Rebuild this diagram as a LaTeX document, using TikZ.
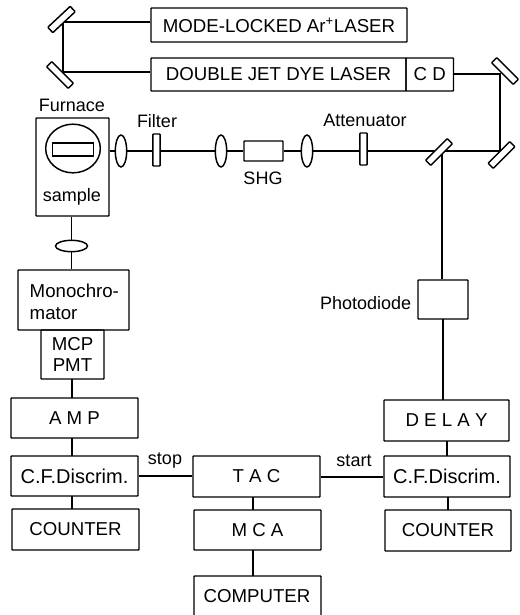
\documentclass[tikz,border=0pt]{standalone}
\usepackage{fontspec}
\usetikzlibrary{shapes.geometric}
\setmainfont{Liberation Sans}
\begin{document}
\begin{tikzpicture}[x=0.75pt,y=-0.75pt,line width=1.1pt,
  box/.style={draw,rounded corners=0.5pt,inner sep=0pt,font=\fontsize{14}{16}\selectfont,align=center},
  mirror/.style={draw,rounded corners=0.6pt,fill=white,minimum width=23pt,minimum height=5.5pt,inner sep=0pt},
  lensv/.style={draw,ellipse,fill=white,minimum width=8.5pt,minimum height=24pt,inner sep=0pt},
  lab/.style={font=\fontsize{13.5}{15}\selectfont,inner sep=0pt}]
\useasboundingbox (0,0) rectangle (519,615);
\clip (0,0) rectangle (519,615);
\def\bx#1#2#3#4#5#6{\node[box,minimum width=#4*0.75pt-#2*0.75pt,minimum height=#5*0.75pt-#3*0.75pt] (#1) at ({(#2+#4)/2},{(#3+#5)/2}) {#6};}
% boxes
\bx{mode}{151}{8}{407}{42}{MODE-LOCKED Ar\textsuperscript{+}LASER}
\bx{dye}{151}{58}{406}{91}{DOUBLE JET DYE LASER}
\bx{cd}{406}{58}{453.5}{91}{C D}
\bx{furn}{36}{118}{109}{216}{}
\bx{mono}{18}{270}{129}{330}{}
\bx{pmt}{41}{330}{104}{379}{\fontsize{14}{16}\selectfont MCP\\[0pt]PMT}
\bx{amp}{11}{398}{138}{438}{A M P}
\bx{cfl}{11}{456}{138}{496}{\fontsize{15}{16}\selectfont C.F.Discrim.}
\bx{cntl}{12}{509}{139}{550}{COUNTER}
\bx{tac}{193}{456}{320}{497}{T A C}
\bx{mca}{194}{510}{321}{550}{M C A}
\bx{comp}{194}{576}{321}{620}{}
\bx{diode}{418}{280}{468}{319}{}
\bx{delay}{384}{400}{509}{441}{D E L A Y}
\bx{cfr}{384}{456}{510}{497}{\fontsize{15}{16}\selectfont C.F.Discrim.}
\bx{cntr}{385}{510}{511}{551}{COUNTER}
\bx{shg}{244}{141}{283}{161}{}
% optics
\coordinate (m1) at (63,22);
\coordinate (m2) at (63,72);
\coordinate (m3) at (500,74);
\coordinate (m4) at (500,151);
\coordinate (bs) at (442,151);
% beam lines (behind optics)
\draw (mode.west |- m1) -- (m1) -- (m2) -- (dye.west |- m2);
\draw (cd.east |- m3) -- (m3) -- (m4) -- (bs) -- (shg.east |- bs);
\draw (shg.west |- bs) -- (furn.east |- bs);
\draw (bs) -- (bs |- diode.north);
\draw (443,319) -- (443,400);
% mirrors
\node[mirror,rotate=43] (mir1) at (61.5,19.5) {};
\node[mirror,rotate=-45] (mir2) at (60,75) {};
\node[mirror,rotate=-45] (mir3) at (505,71) {};
\node[mirror,rotate=45] (mir4) at (501.5,155) {};
\node[mirror,rotate=45] (mir5) at (439,152) {};
\node[lensv] (l1) at (121,151) {};
\node[draw,fill=white,rounded corners=0.6pt,minimum width=5.5pt,minimum height=24pt,inner sep=0pt] (filt) at (156.5,150) {};
\node[lensv] (l2) at (221,151) {};
\node[lensv] (l3) at (307,151) {};
\node[draw,fill=white,rounded corners=0.6pt,minimum width=5.5pt,minimum height=24pt,inner sep=0pt] (att) at (363.5,149) {};
% furnace
\node[draw,ellipse,minimum width=41pt,minimum height=36.5pt,inner sep=0pt] (win) at (73,148.5) {};
\node[draw,minimum width=31pt,minimum height=10pt,inner sep=0pt] (slot) at (73,149.5) {};
% connectors
\node[lensv,minimum width=24pt,minimum height=8.5pt] (l4) at (71.5,246) {};
\draw (furn.south -| l4) -- (l4);
\draw (l4) -- (l4 |- mono.north);
\draw (72,379) -- (72,398);
\draw (72,438) -- (72,456);
\draw (72,496) -- (72,509);
\draw (cfl.east |- 0,476) -- (tac.west |- 0,476);
\draw (tac.east |- 0,477) -- (cfr.west |- 0,477);
\draw (253,497) -- (253,510);
\draw (253,550) -- (253,576);
\draw (447,441) -- (447,456);
\draw (448,497) -- (448,510);
% labels
\node[lab] (tfurn) at (72,105) {Furnace};
\node[lab] (tsamp) at (72,197) {sample};
\node[lab] (tfilt) at (157,121) {Filter};
\node[lab] (tshg) at (263,178) {SHG};
\node[lab] (tatt) at (365,120) {Attenuator};
\node[lab,anchor=east] (tdiode) at (412,303) {Photodiode};
\node[lab] (tstop) at (165,461) {stop};
\node[lab] (tstart) at (354,461) {start};
\node[lab,anchor=west,font=\fontsize{14}{16}\selectfont] (tm1) at (29,291) {Monochro-};
\node[lab,anchor=west,font=\fontsize{14}{16}\selectfont] (tm2) at (29,314) {mator};
\node[lab,font=\fontsize{14}{16}\selectfont] (tcomp) at (257,596) {COMPUTER};
\end{tikzpicture}
\end{document}
